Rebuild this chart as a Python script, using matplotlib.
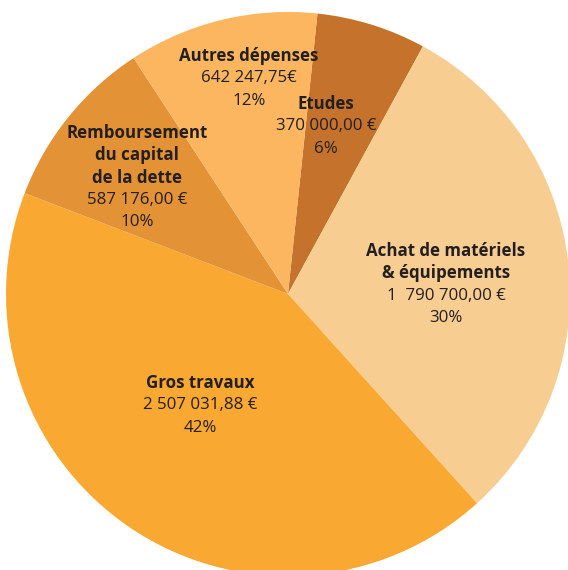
import matplotlib.pyplot as plt

# budget split, values in euros
categories = ["Etudes", "Achat de matériels\n& équipements", "Gros travaux",
              "Remboursement\ndu capital\nde la dette", "Autres dépenses"]
amounts = [370000.00, 1790700.00, 2507031.88, 587176.00, 642247.75]
amount_labels = ["370 000,00 €", "1  790 700,00 €", "2 507 031,88 €",
                 "587 176,00 €", "642 247,75€"]
pct_labels = ["6%", "30%", "42%", "10%", "12%"]

colors = ["#C5732C", "#F8CD91", "#F9A831", "#E39236", "#FBB65F"]
# top line of each label block, in pixels (x, y) on the 568x570 picture
label_px = [(326, 104), (446, 251), (200, 383), (137, 133), (249, 56)]

W, H = 568, 570
cx, cy, R = 288, 294, 282

fig = plt.figure(figsize=(W / 100, H / 100), dpi=100)
ax = fig.add_axes([(cx - R) / W, (H - cy - R) / H, 2 * R / W, 2 * R / H])

ax.pie(amounts, colors=colors, startangle=84, counterclock=False,
       wedgeprops=dict(linewidth=0))
ax.set_xlim(-1, 1)
ax.set_ylim(-1, 1)
ax.set_aspect("equal")
ax.axis("off")

line_h = 22.3
txt_color = "#231f20"
for name, amt, pct, (px, py) in zip(categories, amount_labels, pct_labels, label_px):
    lines = name.split("\n")
    k = 0
    for ln in lines:
        ax.text((px - cx) / R, (cy - (py + k * line_h)) / R, ln, ha="center", va="center",
                fontsize=12.2, fontweight="bold", color=txt_color, family="Open Sans")
        k += 1
    for ln in (amt, pct):
        ax.text((px - cx) / R, (cy - (py + k * line_h)) / R, ln, ha="center", va="center",
                fontsize=12.2, color=txt_color, family="Open Sans")
        k += 1

fig.savefig("out.png", dpi=100)
